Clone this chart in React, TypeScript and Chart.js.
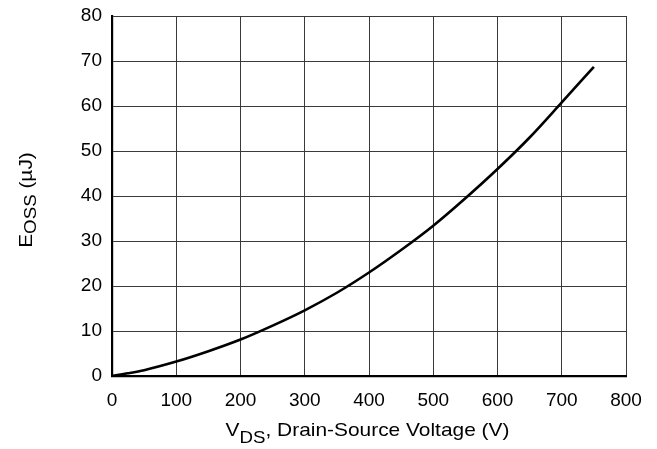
import React, { useEffect, useRef } from "react";
import { Chart, registerables } from "chart.js";

Chart.register(...registerables);

// Drain-source voltage (V)
const voltage = [0, 25, 50, 100, 150, 200, 250, 300, 350, 400, 450, 500, 550, 600, 650, 700, 750];
// Output capacitance stored energy (µJ)
const eoss = [0, 0.6, 1.3, 3.2, 5.5, 8.1, 11.2, 14.6, 18.5, 23, 28, 33.4, 39.5, 46, 53, 60.8, 68.7];

const xMin = 0;
const xMax = 800;
const xStep = 100;
const yMin = 0;
const yMax = 80;
const yStep = 10;

const xTitleParts = [
  { text: "V", sub: false },
  { text: "DS", sub: true },
  { text: ", Drain-Source Voltage (V)", sub: false },
];
const yTitleParts = [
  { text: "E", sub: false },
  { text: "OSS", sub: true },
  { text: " (µJ)", sub: false },
];

const FONT_FAMILY = '"Liberation Sans", Arial, Helvetica, sans-serif';
const MAIN_FONT = `19px ${FONT_FAMILY}`;
const SUB_FONT = `17px ${FONT_FAMILY}`;
const STRETCH = 1.1;

type Part = { text: string; sub: boolean };

function drawParts(ctx: CanvasRenderingContext2D, parts: Part[], cx: number, baseline: number, subShift: number) {
  let total = 0;
  const widths = parts.map((p) => {
    ctx.font = p.sub ? SUB_FONT : MAIN_FONT;
    const w = ctx.measureText(p.text).width;
    total += w;
    return w;
  });
  ctx.save();
  ctx.translate(cx, baseline);
  ctx.scale(STRETCH, 1);
  let x = -total / 2;
  parts.forEach((p, i) => {
    ctx.font = p.sub ? SUB_FONT : MAIN_FONT;
    ctx.fillText(p.text, x, p.sub ? subShift : 0);
    x += widths[i];
  });
  ctx.restore();
}

const titlePlugin = {
  id: "axisTitlesWithSubscripts",
  afterDraw(chart: any) {
    const ctx: CanvasRenderingContext2D = chart.ctx;
    const area = chart.chartArea;
    ctx.save();
    ctx.fillStyle = "#000";
    ctx.textBaseline = "alphabetic";
    ctx.textAlign = "left";
    // x axis title
    drawParts(ctx, xTitleParts, (area.left + area.right) / 2 - 1.5, 435.5, 7);
    // y axis title (rotated)
    ctx.translate(31.5, 200);
    ctx.rotate(-Math.PI / 2);
    drawParts(ctx, yTitleParts, 0, 0, 4);
    ctx.restore();
  },
};

export default function App() {
  const canvasRef = useRef<HTMLCanvasElement | null>(null);

  useEffect(() => {
    if (!canvasRef.current) return;
    const points = voltage.map((v, i) => ({ x: v, y: eoss[i] }));
    const chart = new Chart(canvasRef.current, {
      type: "line",
      data: {
        datasets: [
          {
            data: points,
            borderColor: "#000",
            borderWidth: 2.6,
            pointRadius: 0,
            fill: false,
            cubicInterpolationMode: "monotone",
          },
        ],
      },
      options: {
        animation: false,
        responsive: false,
        devicePixelRatio: 1,
        layout: { padding: { left: 0, right: 31, top: 16, bottom: 0 } },
        plugins: {
          legend: { display: false },
          tooltip: { enabled: false },
          title: { display: false },
        },
        scales: {
          x: {
            type: "linear",
            min: xMin,
            max: xMax,
            afterFit(scale: any) {
              scale.height = 73;
              scale.paddingLeft = 0;
              scale.paddingRight = 0;
            },
            ticks: {
              stepSize: xStep,
              color: "#000",
              padding: 13,
              maxRotation: 0,
              font: { family: FONT_FAMILY, size: 19 },
            },
            grid: { color: "#3a3a3a", lineWidth: 1, drawTicks: false },
            border: { display: true, color: "#000", width: 2.2 },
          },
          y: {
            type: "linear",
            min: yMin,
            max: yMax,
            afterFit(scale: any) {
              scale.width = 112;
              scale.paddingTop = 0;
              scale.paddingBottom = 0;
            },
            ticks: {
              stepSize: yStep,
              color: "#000",
              padding: 10,
              font: { family: FONT_FAMILY, size: 19 },
            },
            grid: { color: "#3a3a3a", lineWidth: 1, drawTicks: false },
            border: { display: true, color: "#000", width: 2.2 },
          },
        },
      },
      plugins: [titlePlugin],
    });
    return () => chart.destroy();
  }, []);

  return (
    <div style={{ position: "absolute", left: 0, top: 0, width: 657, height: 449, background: "#fff" }}>
      <canvas ref={canvasRef} width={657} height={449} style={{ width: 657, height: 449, display: "block" }} />
    </div>
  );
}
